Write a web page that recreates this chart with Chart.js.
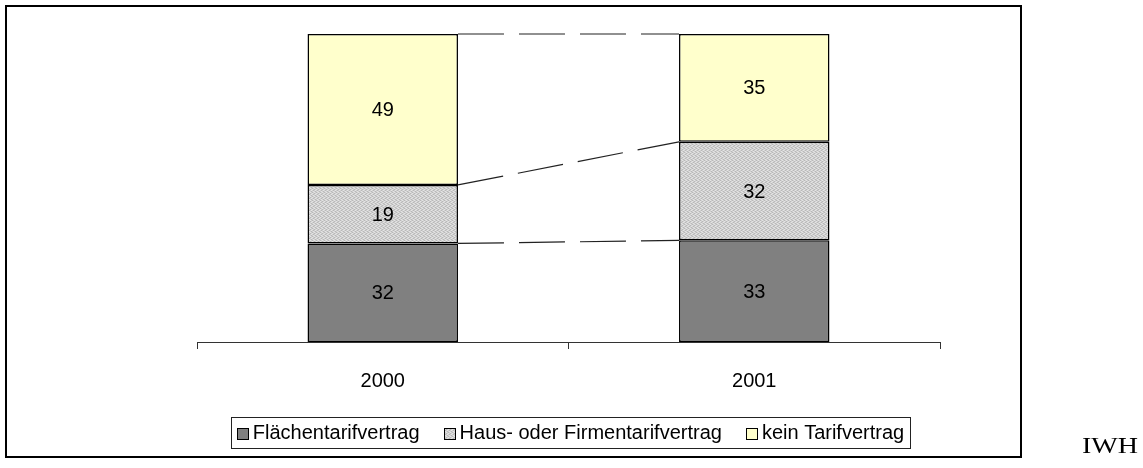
<!DOCTYPE html>
<html>
<head>
<meta charset="utf-8">
<script src="https://cdn.jsdelivr.net/npm/chart.js@4.4.1/dist/chart.umd.min.js"></script>
<style>
    html, body { margin: 0; padding: 0; background: #fff; }
    #wrap { position: relative; width: 1143px; height: 468px; overflow: hidden; }
    #frame { position: absolute; left: 5px; top: 5px; width: 1017px; height: 453px; border: 2px solid #000; box-sizing: border-box; }
    #iwh { position: absolute; left: 1082px; top: 433px; font: 23px "Liberation Serif", "Times New Roman", serif; color: #000; transform: scaleX(1.22); transform-origin: left top; }
    canvas { position: absolute; left: 0; top: 0; }
</style>
</head>
<body>
<div id="wrap">
    <div id="frame"></div>
    <canvas id="chart" width="1143" height="468"></canvas>
    <div id="iwh">IWH</div>
</div>
<script>
// Anteile in Prozent
const years = ['2000', '2001'];
const seriesNames = ['Flächentarifvertrag', 'Haus- oder Firmentarifvertrag', 'kein Tarifvertrag'];
const flaechenTarif = [32, 33];
const hausTarif = [19, 32];
const keinTarif = [49, 35];

document.addEventListener('DOMContentLoaded', function () {
    const ctx = document.getElementById('chart').getContext('2d');

    // dotted light grey fill like the original
    function makeDotPattern() {
        const p = document.createElement('canvas');
        p.width = 4;
        p.height = 4;
        const pc = p.getContext('2d');
        pc.fillStyle = '#d0d0d0';
        pc.fillRect(0, 0, 4, 4);
        pc.fillStyle = '#b8b8b8';
        [[0, 0], [2, 1], [1, 2], [3, 3]].forEach(function (d) {
            pc.fillRect(d[0], d[1], 1, 1);
        });
        pc.fillStyle = '#e4e4e4';
        [[2, 0], [0, 1], [3, 2], [1, 3]].forEach(function (d) {
            pc.fillRect(d[0], d[1], 1, 1);
        });
        return ctx.createPattern(p, 'repeat');
    }

    const fills = ['#808080', makeDotPattern(), '#ffffcc'];
    const values = [flaechenTarif, hausTarif, keinTarif];

    const seriesLines = {
        id: 'seriesLines',
        afterDatasetsDraw: function (chart) {
            const c = chart.ctx;
            c.save();
            c.strokeStyle = '#222';
            c.lineWidth = 1.2;
            c.setLineDash([46, 15]);
            chart.data.datasets.forEach(function (ds, i) {
                const meta = chart.getDatasetMeta(i);
                const a = meta.data[0];
                const b = meta.data[1];
                c.beginPath();
                c.moveTo(a.x + a.width / 2, a.y);
                c.lineTo(b.x - b.width / 2, b.y);
                c.stroke();
            });
            c.restore();
        }
    };

    const valueLabels = {
        id: 'valueLabels',
        afterDatasetsDraw: function (chart) {
            const c = chart.ctx;
            c.save();
            c.font = '20px "Liberation Sans", Arial, sans-serif';
            c.fillStyle = '#000';
            c.textAlign = 'center';
            c.textBaseline = 'middle';
            chart.data.datasets.forEach(function (ds, i) {
                chart.getDatasetMeta(i).data.forEach(function (bar, j) {
                    c.fillText(String(ds.data[j]), bar.x, (bar.y + bar.base) / 2 + 1);
                });
            });
            c.restore();
        }
    };

    const boxedLegend = {
        id: 'boxedLegend',
        afterDraw: function (chart) {
            const c = chart.ctx;
            const area = chart.chartArea;
            const mark = 11, textGap = 5, itemGap = 24, padX = 6;
            const top = 417, h = 31;
            c.save();
            c.font = '20px "Liberation Sans", Arial, sans-serif';
            const widths = chart.data.datasets.map(function (ds) { return c.measureText(ds.label).width; });
            let total = 0;
            widths.forEach(function (w) { total += mark + textGap + w; });
            total += itemGap * (widths.length - 1);
            const center = (area.left + area.right) / 2 + 2;
            let x = center - total / 2;
            c.strokeStyle = '#222';
            c.lineWidth = 1;
            c.strokeRect(Math.round(x - padX) + 0.5, top + 0.5, Math.round(total + padX * 2), h);
            const mid = top + h / 2 + 1;
            c.textBaseline = 'middle';
            c.textAlign = 'left';
            chart.data.datasets.forEach(function (ds, i) {
                c.fillStyle = ds.backgroundColor;
                c.fillRect(Math.round(x) + 0.5, Math.round(mid - mark / 2) + 0.5, mark, mark);
                c.strokeStyle = '#000';
                c.strokeRect(Math.round(x) + 0.5, Math.round(mid - mark / 2) + 0.5, mark, mark);
                c.fillStyle = '#000';
                c.fillText(ds.label, x + mark + textGap, mid);
                x += mark + textGap + widths[i] + itemGap;
            });
            c.restore();
        }
    };

    new Chart(ctx, {
        type: 'bar',
        data: {
            labels: years,
            datasets: seriesNames.map(function (name, i) {
                return {
                    label: name,
                    data: values[i],
                    backgroundColor: fills[i],
                    borderColor: '#000',
                    borderWidth: 1.5,
                    borderSkipped: false,
                    barPercentage: 1,
                    categoryPercentage: 0.405
                };
            })
        },
        options: {
            responsive: false,
            animation: false,
            layout: {
                padding: { left: 197, right: 203, top: 34, bottom: 55 }
            },
            plugins: {
                legend: { display: false },
                tooltip: { enabled: false }
            },
            scales: {
                x: {
                    stacked: true,
                    grid: {
                        offset: true,
                        drawOnChartArea: false,
                        drawTicks: true,
                        tickLength: 7,
                        color: '#333'
                    },
                    border: { display: true, color: '#333', width: 1 },
                    ticks: {
                        color: '#000',
                        padding: 20,
                        font: { family: '"Liberation Sans", Arial, sans-serif', size: 20 }
                    }
                },
                y: {
                    stacked: true,
                    display: false,
                    min: 0,
                    max: 100
                }
            }
        },
        plugins: [seriesLines, valueLabels, boxedLegend]
    });
});
</script>
</body>
</html>
